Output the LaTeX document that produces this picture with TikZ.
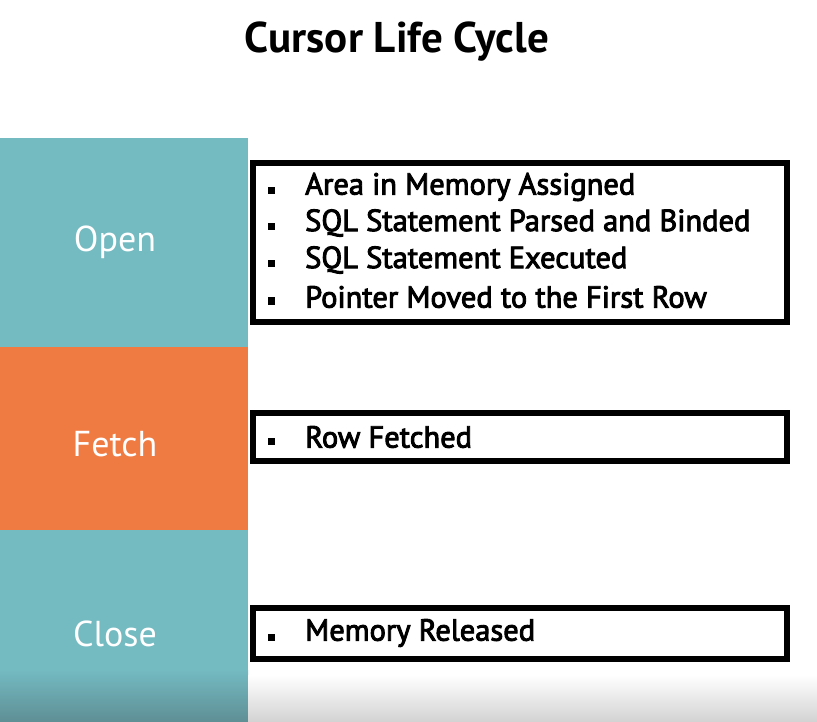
\documentclass[tikz,border=0pt]{standalone}
\usepackage{fontspec}
\setmainfont{PT Sans}
\newfontfamily\itemfont[FakeBold=3]{PT Sans}
\usepackage{tikz}
\usetikzlibrary{positioning}

\definecolor{tealband}{HTML}{74BAC1}
\definecolor{tealdark}{HTML}{5E8F95}
\definecolor{orangeband}{HTML}{F07B42}

\tikzset{
  stagelabel/.style={text=white, font=\fontsize{36}{36}\selectfont},
  stepframe/.style={draw=black, line width=6pt},
  pointtext/.style={anchor=west, inner sep=0pt, font=\itemfont\fontsize{30.5}{30.5}\selectfont},
  sqbullet/.style={fill=black, minimum size=7pt, inner sep=0pt}
}

\begin{document}
\begin{tikzpicture}[x=1pt,y=-1pt]
    \useasboundingbox (0,0) rectangle (817,722);
    \fill[white] (0,0) rectangle (817,722);

    % title
    \node[font=\bfseries\fontsize{43}{43}\selectfont] (title) at (397,42) {Cursor Life Cycle};

    % stages
    \fill[tealband]   (0,138) rectangle (248,347);
    \fill[orangeband] (0,347) rectangle (248,530);
    \fill[tealband]   (0,530) rectangle (248,722);
    \shade[top color=tealband, bottom color=tealdark] (0,670) rectangle (248,722);
    \shade[top color=white, bottom color=gray!35] (248,675) rectangle (817,722);

    \node[stagelabel] (open)  at (115,242) {Open};
    \node[stagelabel] (fetch) at (115,444) {Fetch};
    \node[stagelabel] (close) at (115,634) {Close};

    % frames
    \draw[stepframe] (253,163) rectangle (787,322);
    \draw[stepframe] (253,413) rectangle (787,461);
    \draw[stepframe] (253,608) rectangle (787,659);

    % points
    \foreach \y/\txt in {187/Area in Memory Assigned,
                         223/SQL Statement Parsed and Binded,
                         260/SQL Statement Executed,
                         297/Pointer Moved to the First Row,
                         437/Row Fetched,
                         633/Memory Released}
    {
      \node[sqbullet] at (271,\y+4) {};
      \node[pointtext] at (305,\y) {\txt};
    }
\end{tikzpicture}
\end{document}
